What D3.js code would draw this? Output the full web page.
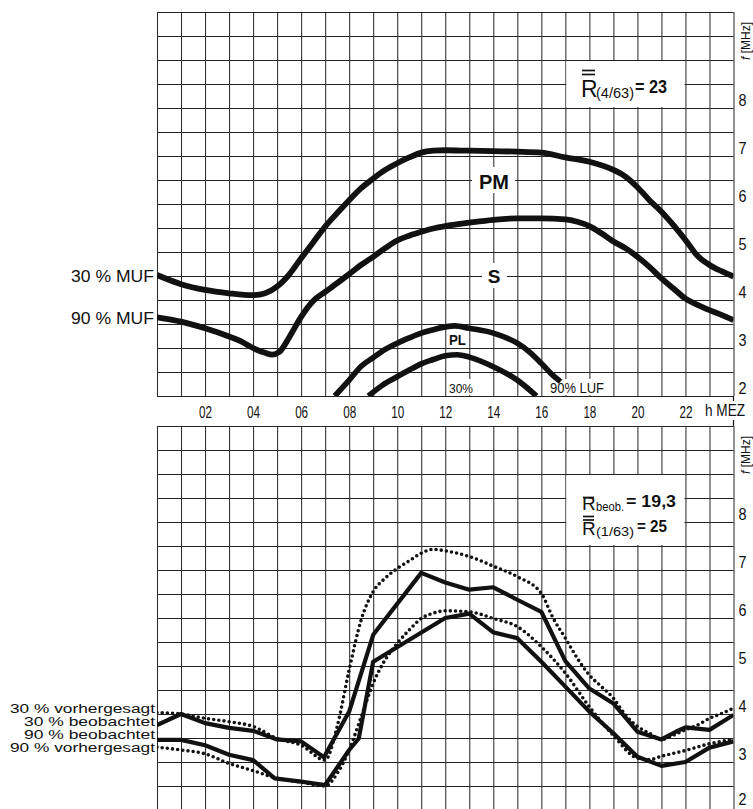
<!DOCTYPE html>
<html><head><meta charset="utf-8">
<script src="https://cdn.jsdelivr.net/npm/d3@7"></script>
<style>
body{margin:0;background:#fff}
svg{display:block}
text{font-family:"Liberation Sans",Arial,Helvetica,sans-serif;fill:#111}
</style>
</head><body>
<svg id="chart" width="753" height="809"></svg>
<script>
// ---------- axis / grid values ----------
const gridHours = d3.range(0, 25, 1);
const gridFreqs = d3.range(2, 10.01, 0.5);
const hourTicks = [2,4,6,8,10,12,14,16,18,20,22];
const freqTicks = [2,3,4,5,6,7,8];

// ---------- top panel: forecast ----------
const pmHours  = [0,1,2,3,4,4.5,5,5.5,6,6.5,7,7.5,8,8.5,9,9.5,10,10.5,11,11.5,12,13,14,15,16,17,18,19,19.5,20,20.5,21,21.5,22,22.5,23,23.5,24];
const pmValues = [4.52,4.33,4.21,4.14,4.10,4.14,4.28,4.53,4.87,5.20,5.53,5.81,6.08,6.33,6.53,6.71,6.85,6.97,7.07,7.11,7.12,7.11,7.10,7.09,7.07,6.97,6.88,6.71,6.57,6.35,6.08,5.84,5.56,5.25,4.92,4.73,4.60,4.49];
const sHours   = [0,1,2,3,3.5,4,4.5,4.8,5.1,5.5,6,6.5,7,7.5,8,8.5,9,9.5,10,10.5,11,11.5,12,13,14,15,16,17,17.5,18,18.5,19,19.5,20,20.5,21,21.5,22,22.5,23,23.5,24];
const sValues  = [3.64,3.55,3.41,3.24,3.14,3.00,2.90,2.86,2.92,3.22,3.65,3.98,4.17,4.35,4.54,4.73,4.90,5.08,5.24,5.34,5.42,5.49,5.54,5.61,5.67,5.70,5.70,5.68,5.63,5.54,5.39,5.22,5.08,4.90,4.69,4.45,4.24,4.03,3.90,3.79,3.69,3.58];
const pl90Hours  = [7.4,8,8.5,9,9.5,10,10.5,11,11.5,12,12.4,13,14,15,15.5,16,16.4,16.8];
const pl90Values = [2.0,2.33,2.62,2.80,2.97,3.10,3.21,3.31,3.38,3.44,3.46,3.41,3.31,3.10,2.92,2.68,2.47,2.30];
const pl30Hours  = [8.8,9.4,10,10.5,11,11.5,12,12.5,13,14,15,15.8];
const pl30Values = [2.0,2.23,2.40,2.54,2.67,2.76,2.84,2.86,2.81,2.61,2.33,2.0];

// ---------- bottom panel: observed vs predicted ----------
const obs30Hours  = [0,1,2,3,4,5,6,6.95,8,9,11,12,13,14,15,16,17,18,19,20,21,21.6,22,23,24];
const obs30Values = [3.77,4.00,3.81,3.71,3.65,3.47,3.43,3.10,4.05,5.65,6.94,6.74,6.59,6.64,6.38,6.13,5.10,4.53,4.22,3.63,3.47,3.63,3.72,3.67,3.98];
const obs90Hours  = [0,1,2,3,4,4.9,6,7,8,8.4,9,12,13,14,15,16,17,18,19,20,21,22,23,24];
const obs90Values = [3.46,3.46,3.35,3.15,3.04,2.66,2.59,2.52,3.25,3.49,5.09,6.00,6.09,5.70,5.58,5.09,4.57,4.05,3.60,3.11,2.92,3.00,3.30,3.43];
const pred30Hours  = [0,1,2,3,4,5,6,7,7.5,8,8.5,9,9.5,10,10.5,11,11.5,12,13,14,15,16,16.5,17,17.5,18,18.5,19,19.5,20,20.5,21,21.5,22,22.5,23,23.5,24];
const pred30Values = [4.03,4.00,3.91,3.84,3.74,3.49,3.35,3.04,3.74,4.92,5.96,6.55,6.83,7.03,7.19,7.35,7.43,7.40,7.28,7.08,6.86,6.51,5.99,5.58,5.16,4.81,4.57,4.33,3.98,3.74,3.60,3.47,3.56,3.67,3.77,3.91,4.01,4.12];
const pred90Hours  = [0,1,2,3,4,5,6,7,7.5,8,8.5,9,9.5,10,10.5,11,11.5,12,13,14,15,16,17,18,19,20,20.5,21,22,23,24];
const pred90Values = [3.31,3.25,3.17,2.97,2.82,2.66,2.58,2.50,2.76,3.25,3.94,4.64,5.13,5.47,5.75,5.99,6.10,6.15,6.13,5.99,5.82,5.40,4.85,4.15,3.55,3.08,3.05,3.12,3.24,3.38,3.47];

// ---------- layout ----------
const svg = d3.select('#chart');
svg.append('rect').attr('width',753).attr('height',809).attr('fill','#fff');
const x = d3.scaleLinear().domain([0,24]).range([157,733.5]);
const yTop = d3.scaleLinear().domain([2,10]).range([396,12]);
const yBot = d3.scaleLinear().domain([2,10]).range([810,426]);
const INK = '#111';

function drawGrid(y, id) {
  const g = svg.append('g');
  const w = x(24) - x(0), h = y(2) - y(10);
  g.append('g').attr('transform', `translate(${x(0)},0)`)
    .call(d3.axisLeft(y).tickValues(gridFreqs).tickSize(-w).tickFormat(''))
    .call(s => s.select('.domain').remove())
    .selectAll('line').attr('stroke','#222').attr('stroke-width',1.15);
  g.append('g').attr('transform', `translate(0,${y(10)})`)
    .call(d3.axisTop(x).tickValues(gridHours).tickSize(-h).tickFormat(''))
    .call(s => s.select('.domain').remove())
    .selectAll('line').attr('stroke','#2e2e2e').attr('stroke-width',1.05);
  // right frequency labels
  const ax = svg.append('g').attr('transform', `translate(${x(24)},0)`)
    .call(d3.axisRight(y).tickValues(freqTicks).tickSize(0).tickPadding(5).tickFormat(d3.format('d')));
  ax.select('.domain').remove();
  ax.selectAll('text').attr('font-size',17).attr('dy','-0.16em')
    .attr('textLength',8).attr('lengthAdjust','spacingAndGlyphs').attr('fill',INK)
    .style('font-family','"Liberation Sans",Arial,sans-serif');
  // clip
  svg.append('clipPath').attr('id', id).append('rect')
    .attr('x', x(0)).attr('y', y(10)).attr('width', w).attr('height', h);
  return ax;
}

function whiteRect(x0, y0, w, h) {
  svg.append('rect').attr('x',x0).attr('y',y0).attr('width',w).attr('height',h).attr('fill','#fff');
}

function curve(y, hrs, vals, clip, opts) {
  const data = hrs.map((hh,i)=>[hh, vals[i]]);
  const line = d3.line().x(d=>x(d[0])).y(d=>y(d[1])).curve(opts.curve || d3.curveLinear);
  const p = svg.append('path').attr('d', line(data)).attr('fill','none')
    .attr('stroke', INK).attr('stroke-width', opts.w)
    .attr('stroke-linejoin','round').attr('stroke-linecap', opts.cap || 'butt')
    .attr('clip-path', `url(#${clip})`);
  if (opts.dots) p.attr('stroke-dasharray','0 5.2').attr('stroke-linecap','round');
}

function txt(str, xx, yy, size, opts={}) {
  const t = svg.append('text').attr('x',xx).attr('y',yy).attr('font-size',size).text(str);
  if (opts.bold) t.attr('font-weight','bold');
  if (opts.anchor) t.attr('text-anchor',opts.anchor);
  if (opts.len) t.attr('textLength',opts.len).attr('lengthAdjust','spacingAndGlyphs');
  if (opts.italic) t.attr('font-style','italic');
  return t;
}

function bars(x0, x1, ys) {
  ys.forEach(yy => svg.append('line').attr('x1',x0).attr('x2',x1).attr('y1',yy).attr('y2',yy)
    .attr('stroke',INK).attr('stroke-width',1.7));
}

// ===== TOP PANEL =====
drawGrid(yTop, 'clipTop');
// white patches
whiteRect(x(17)+1, yTop(9)+1, x(22)-x(17)-2, yTop(8)-yTop(9)-2);
whiteRect(472, 167, 43, 26);   // PM
whiteRect(482, 263, 25, 25);   // S
whiteRect(447, 333, 21, 14);   // PL
whiteRect(447, 379, 27, 16);   // 30%
whiteRect(548, 379, 58, 16);   // 90% LUF

// bottom hour labels
const hx = svg.append('g').attr('transform', `translate(0,${yTop(2)})`)
  .call(d3.axisBottom(x).tickValues(hourTicks).tickSize(0).tickPadding(8).tickFormat(d3.format('02d')));
hx.select('.domain').remove();
hx.selectAll('text').attr('font-size',17).attr('dy','0.8em').attr('fill',INK)
  .attr('textLength',13).attr('lengthAdjust','spacingAndGlyphs')
  .style('font-family','"Liberation Sans",Arial,sans-serif');
txt('h MEZ', 705, 416, 16, {len:40});

// right border continuation
svg.append('line').attr('x1',x(24)).attr('x2',x(24)).attr('y1',yTop(2)).attr('y2',401).attr('stroke',INK).attr('stroke-width',1.2);
svg.append('line').attr('x1',x(24)).attr('x2',x(24)).attr('y1',420).attr('y2',yBot(10)).attr('stroke',INK).attr('stroke-width',1.2);

// curves
curve(yTop, pmHours, pmValues, 'clipTop', {w:5.8, curve:d3.curveMonotoneX});
curve(yTop, sHours, sValues, 'clipTop', {w:5.8, curve:d3.curveMonotoneX});
curve(yTop, pl90Hours, pl90Values, 'clipTop', {w:5.6, curve:d3.curveMonotoneX});
curve(yTop, pl30Hours, pl30Values, 'clipTop', {w:5.6, curve:d3.curveMonotoneX});

// labels
txt('PM', 494, 189, 20, {bold:true, anchor:'middle'});
txt('S', 494, 283, 19, {bold:true, anchor:'middle'});
txt('PL', 457.5, 345, 14, {bold:true, anchor:'middle', len:17});
txt('30%', 449, 393, 12.5, {len:24});
txt('90% LUF', 550, 393, 14, {len:54});
txt('30 % MUF', 154, 282, 17, {anchor:'end', len:83});
txt('90 % MUF', 154, 324, 17, {anchor:'end', len:83});

// f [MHz]
function fLabel(yy) {
  const t = svg.append('text').attr('transform',`translate(750,${yy}) rotate(-90)`).attr('font-size',12);
  t.append('tspan').attr('font-style','italic').text('f');
  t.append('tspan').text(' [MHz]');
}
fLabel(60);

// R box top
txt('R', 581, 97, 23);
bars(582, 595, [70.5, 74.5]);
txt('(4/63)', 596, 98, 14, {len:38});
txt('= 23', 635, 93, 18, {bold:true, len:32});

// ===== BOTTOM PANEL =====
const axBot = drawGrid(yBot, 'clipBot');
// lowest label sits at the picture edge: lift it slightly so it stays visible
axBot.selectAll('text').filter(d => d === 2).attr('dy','-0.3em');
whiteRect(x(17)+1, yBot(9)+1, x(22)-x(17)-2, yBot(7.5)-yBot(9)-2);

curve(yBot, pred30Hours, pred30Values, 'clipBot', {w:3.6, dots:true, curve:d3.curveMonotoneX});
curve(yBot, pred90Hours, pred90Values, 'clipBot', {w:3.6, dots:true, curve:d3.curveMonotoneX});
curve(yBot, obs30Hours, obs30Values, 'clipBot', {w:4.2});
curve(yBot, obs90Hours, obs90Values, 'clipBot', {w:4.2});

fLabel(474);

// R boxes bottom
txt('R', 582, 510, 19);
bars(583, 594, [497.5]);
txt('beob.', 596, 511, 13.5, {len:28});
txt('= 19,3', 626, 507, 16, {bold:true, len:50});
txt('R', 582, 535, 19);
bars(583, 594, [516.5, 520]);
txt('(1/63)', 596, 536, 13.5, {len:38});
txt('= 25', 637, 532, 16, {bold:true, len:30});

// left legend labels
txt('30 % vorhergesagt', 155, 713, 12, {anchor:'end', len:145});
txt('30 % beobachtet', 155, 726, 12, {anchor:'end', len:131});
txt('90 % beobachtet', 155, 739, 12, {anchor:'end', len:131});
txt('90 % vorhergesagt', 155, 752, 12, {anchor:'end', len:145});
</script>
</body></html>
